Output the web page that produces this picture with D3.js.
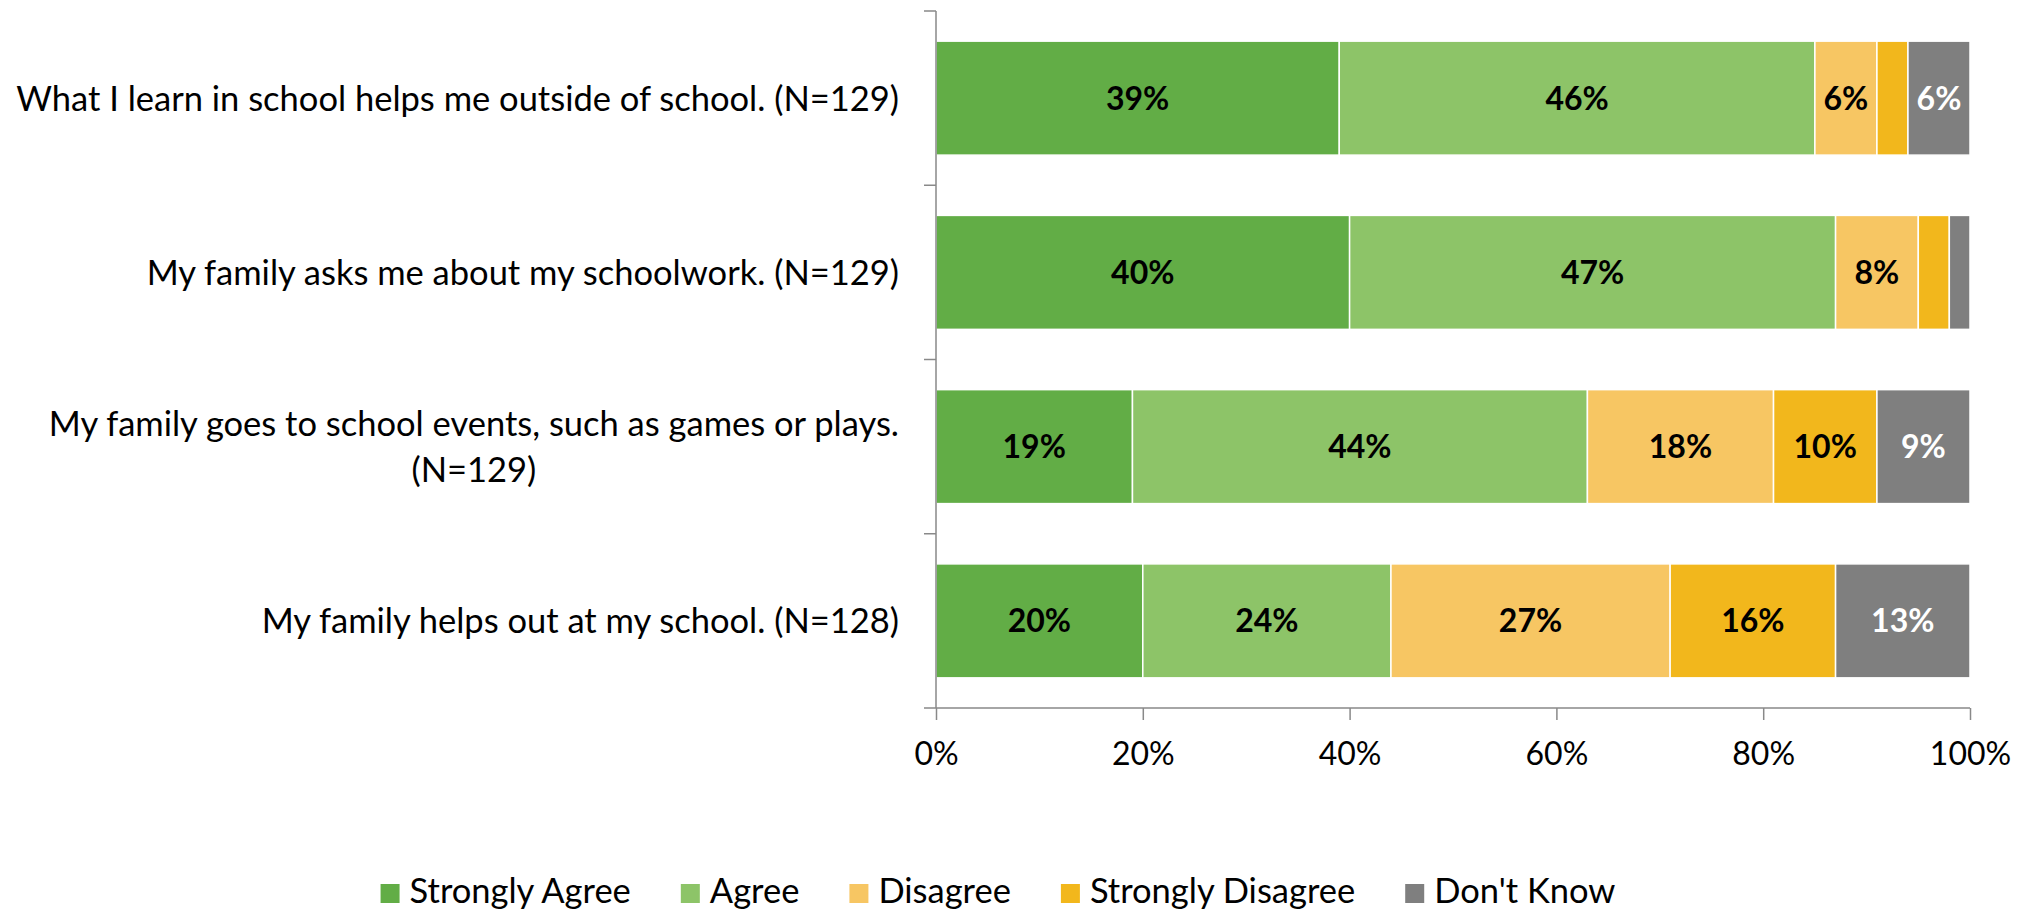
<!DOCTYPE html>
<html>
<head>
<meta charset="utf-8">
<script src="https://cdn.jsdelivr.net/npm/d3@7"></script>
<style>
  body { margin: 0; background: #fff; }
  svg text { font-family: Lato, "Open Sans", sans-serif; fill: #000; }
</style>
</head>
<body>
<svg id="chart" width="2030" height="913"></svg>
<script>
// survey items, top to bottom
var questions = [
    "What I learn in school helps me outside of school. (N=129)",
    "My family asks me about my schoolwork. (N=129)",
    "My family goes to school events, such as games or plays. (N=129)",
    "My family helps out at my school. (N=128)"
]

var responses = ["Strongly Agree", "Agree", "Disagree", "Strongly Disagree", "Don't Know"]

// percent per response, one array per response, in question order
var strongly_agree    = [39, 40, 19, 20]
var agree             = [46, 47, 44, 24]
var disagree          = [6, 8, 18, 27]
var strongly_disagree = [3, 3, 10, 16]
var dont_know         = [6, 2, 9, 13]

var x_ticks = [0, 20, 40, 60, 80, 100]

var colors = ["#62ad46", "#8dc468", "#f7c663", "#f2b71c", "#7f7f7f"]
var label_colors = ["#000", "#000", "#000", "#000", "#fff"]

// build rows for the stack
var rows = questions.map(function(q, i) {
    return {
        question: q,
        "Strongly Agree": strongly_agree[i],
        "Agree": agree[i],
        "Disagree": disagree[i],
        "Strongly Disagree": strongly_disagree[i],
        "Don't Know": dont_know[i]
    }
})

var margin = {top: 11, left: 936, right: 60, bottom: 205}
var width = 2030 - margin.left - margin.right
var height = 913 - margin.top - margin.bottom
var axis_color = "#898989"
var num_size = 32     // numbers (bar values, ticks)
var text_size = 34.5  // words (categories, legend)

var svg = d3.select("#chart")
var g = svg.append("g").attr("transform", "translate(" + margin.left + "," + margin.top + ")")

var x = d3.scaleLinear().domain([0, 100]).range([0, width])
var y = d3.scaleBand().domain(questions).range([0, height]).paddingInner(0.346).paddingOuter(0.173)

var series = d3.stack().keys(responses)(rows)

var layer = g.selectAll(".layer")
    .data(series)
    .enter().append("g")
    .attr("class", "layer")
    .attr("fill", function(d, i) { return colors[i] })

layer.selectAll("rect")
    .data(function(d) { return d })
    .enter().append("rect")
    .attr("x", function(d) { return x(d[0]) })
    .attr("y", function(d) { return y(d.data.question) })
    .attr("width", function(d) { return x(d[1]) - x(d[0]) })
    .attr("height", y.bandwidth())
    .attr("stroke", "#fff")
    .attr("stroke-width", 1.5)

// value labels, small segments stay unlabeled
layer.each(function(s, i) {
    d3.select(this).selectAll("text")
        .data(s.filter(function(d) { return d[1] - d[0] >= 5 }))
        .enter().append("text")
        .attr("x", function(d) { return x((d[0] + d[1]) / 2) })
        .attr("y", function(d) { return y(d.data.question) + y.bandwidth() / 2 })
        .attr("dy", "0.36em")
        .attr("text-anchor", "middle")
        .style("font-size", num_size + "px")
        .style("font-weight", "bold")
        .style("fill", label_colors[i])
        .text(function(d) { return (d[1] - d[0]) + "%" })
})

// category axis: line plus ticks between the bands
var step = y.step()
var y_axis = g.append("g").attr("class", "y-axis")
y_axis.append("line")
    .attr("x1", 0).attr("x2", 0)
    .attr("y1", 0).attr("y2", height)
    .attr("stroke", axis_color).attr("stroke-width", 1.5)
y_axis.selectAll(".cat-tick")
    .data(d3.range(questions.length + 1))
    .enter().append("line")
    .attr("class", "cat-tick")
    .attr("x1", -12).attr("x2", 0)
    .attr("y1", function(i) { return i * step })
    .attr("y2", function(i) { return i * step })
    .attr("stroke", axis_color).attr("stroke-width", 1.5)

// category labels, wrapped to the room left of the axis
var label_right = -37
var label_max = 925
var labels = g.append("g").attr("class", "cat-labels")
questions.forEach(function(q) {
    var t = labels.append("text")
        .style("font-size", text_size + "px")
        .attr("text-anchor", "middle")
    var words = q.split(" "), lines = [], line = []
    var probe = t.append("tspan")
    words.forEach(function(w) {
        line.push(w)
        probe.text(line.join(" "))
        if (probe.node().getComputedTextLength() > label_max && line.length > 1) {
            line.pop()
            lines.push(line.join(" "))
            line = [w]
        }
    })
    lines.push(line.join(" "))
    var widths = lines.map(function(l) { probe.text(l); return probe.node().getComputedTextLength() })
    probe.remove()
    var block = d3.max(widths)
    var line_h = 46
    var cy = y(q) + y.bandwidth() / 2 - (lines.length - 1) * line_h / 2
    lines.forEach(function(l, k) {
        t.append("tspan")
            .attr("x", label_right - block / 2)
            .attr("y", cy + k * line_h)
            .attr("dy", "0.36em")
            .text(l)
    })
})

// value axis
var x_axis = g.append("g")
    .attr("transform", "translate(0," + height + ")")
    .call(d3.axisBottom(x).tickValues(x_ticks).tickSize(12).tickPadding(22)
        .tickFormat(function(d) { return d + "%" }))
x_axis.select(".domain").attr("stroke", axis_color).attr("stroke-width", 1.5)
    .attr("d", "M0,0H" + width)
x_axis.selectAll(".tick line").attr("stroke", axis_color).attr("stroke-width", 1.5)
x_axis.selectAll(".tick text")
    .style("font-size", num_size + "px")
    .style("font-family", "Lato, 'Open Sans', sans-serif")
    .attr("fill", "#000")

// legend, centred under the chart
var legend = svg.append("g").attr("class", "legend")
var items = legend.selectAll(".item")
    .data(responses)
    .enter().append("g")
    .attr("class", "item")
items.append("rect")
    .attr("width", 19).attr("height", 19)
    .attr("y", -19)
    .attr("fill", function(d, i) { return colors[i] })
items.append("text")
    .attr("x", 29)
    .style("font-size", text_size + "px")
    .text(function(d) { return d })

var pos = 0
items.each(function() {
    var w = this.querySelector("text").getComputedTextLength()
    d3.select(this).attr("data-x", pos)
    pos += 29 + w + 50
})
var legend_w = pos - 50
var legend_left = 998 - legend_w / 2
items.attr("transform", function() {
    return "translate(" + (legend_left + (+this.getAttribute("data-x"))) + ",903)"
})
</script>
</body>
</html>
